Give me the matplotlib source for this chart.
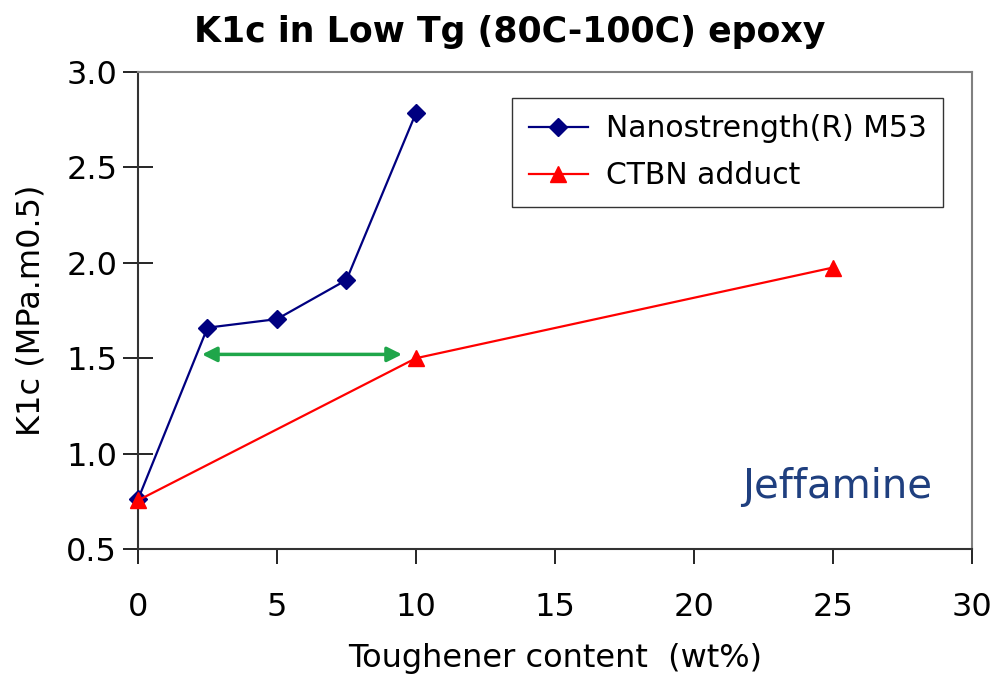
import matplotlib
matplotlib.use("Agg")
import matplotlib.pyplot as plt

nano_x = [0, 2.5, 5, 7.5, 10]
nano_y = [0.76, 1.66, 1.705, 1.91, 2.785]
ctbn_x = [0, 10, 25]
ctbn_y = [0.755, 1.50, 1.975]
arrow_x = [2.3, 9.5]
arrow_y = 1.52
xticks = [0, 5, 10, 15, 20, 25, 30]
yticks = [0.5, 1.0, 1.5, 2.0, 2.5, 3.0]

plt.rcParams['font.family'] = ['DejaVu Sans']

fig = plt.figure(figsize=(9.95, 6.85), dpi=100)
ax = fig.add_axes([0.1387, 0.1985, 0.838, 0.6964])

ax.plot(nano_x, nano_y, color='#000080', lw=1.6, marker='D', markersize=9,
        label='Nanostrength(R) M53', clip_on=False, zorder=3)
ax.plot(ctbn_x, ctbn_y, color='#FF0000', lw=1.6, marker='^', markersize=11,
        label='CTBN adduct', clip_on=False, zorder=3)

ax.annotate('', xy=(arrow_x[1], arrow_y), xytext=(arrow_x[0], arrow_y),
            arrowprops=dict(arrowstyle='<|-|>', color='#1FA64A', lw=2.5,
                            mutation_scale=22, shrinkA=0, shrinkB=0))

ax.set_xlim(0, 30)
ax.set_ylim(0.5, 3.0)
ax.set_xticks(xticks)
ax.set_yticks(yticks)
ax.set_xticklabels([str(t) for t in xticks])
ax.set_yticklabels([f"{t:.1f}" for t in yticks])

for s in ['top', 'right']:
    ax.spines[s].set_color('#808080')
    ax.spines[s].set_linewidth(1.5)
for s in ['left', 'bottom']:
    ax.spines[s].set_color('#333333')
    ax.spines[s].set_linewidth(1.5)

ax.tick_params(axis='y', direction='inout', length=22, width=1.2, labelsize=23, pad=4)
ax.tick_params(axis='x', direction='out', length=11, width=1.2, labelsize=23, pad=20)

ax.set_xlabel('Toughener content  (wt%)', fontsize=23, labelpad=14)
ax.set_ylabel('K1c (MPa.m0.5)', fontsize=23, labelpad=14)
fig.suptitle('K1c in Low Tg (80C-100C) epoxy', fontsize=25, fontweight='bold',
             x=0.512, y=0.978)

leg = ax.legend(loc='upper right', bbox_to_anchor=(0.966, 0.9455), fontsize=21.5,
                frameon=True, fancybox=False, edgecolor='black', handlelength=2.0,
                borderpad=0.55, labelspacing=0.6, handletextpad=0.6,
                borderaxespad=0)
leg.get_frame().set_linewidth(1.0)

ax.text(0.838, 0.13, 'Jeffamine', transform=ax.transAxes, fontsize=29,
        color='#1F3F7F', ha='center', va='center')

fig.savefig('out.png', dpi=100)
